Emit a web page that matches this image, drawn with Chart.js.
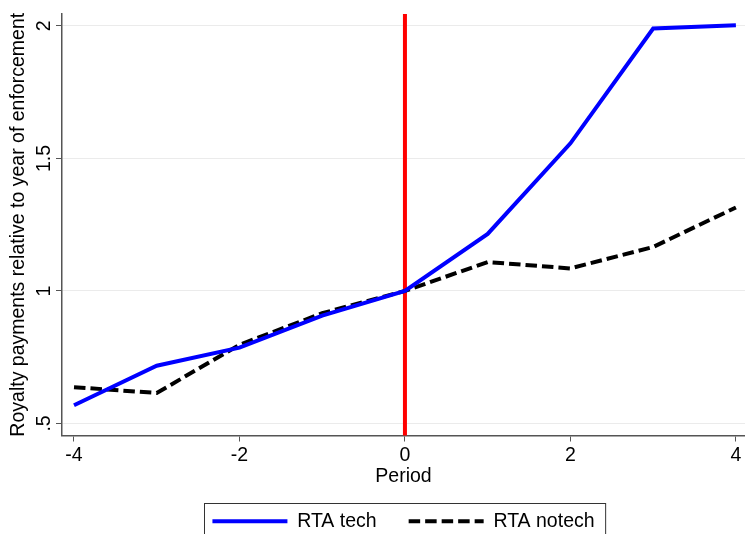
<!DOCTYPE html>
<html lang="en">
<head>
    <meta charset="UTF-8">
    <title>Royalty payments relative to year of enforcement</title>
    <style>
        html, body {
            margin: 0;
            padding: 0;
            background: #ffffff;
            overflow: hidden;
        }
        #chart {
            display: block;
        }
    </style>
</head>
<body>
    <canvas id="chart" width="745" height="541"></canvas>

    <script src="https://cdn.jsdelivr.net/npm/chart.js"></script>
    <script>
        // data
        const periods = [-4, -3, -2, -1, 0, 1, 2, 3, 4];
        const techVals = [0.569, 0.718, 0.786, 0.907, 1.0, 1.215, 1.557, 1.99, 2.003];
        const notechVals = [0.637, 0.615, 0.797, 0.916, 1.0, 1.109, 1.085, 1.166, 1.315];

        const xTickVals = [-4, -2, 0, 2, 4];
        const yTickVals = [0.5, 1, 1.5, 2];
        const yTickLabels = ['.5', '1', '1.5', '2'];
        const enforcementPeriod = 0;

        const FONT = '"Liberation Sans", Arial, sans-serif';
        const axisColor = '#555555';

        // vertical red line at the enforcement period
        const enforceLine = {
            id: 'enforceLine',
            beforeDatasetsDraw(chart) {
                const ctx = chart.ctx;
                const x = chart.scales.x.getPixelForValue(enforcementPeriod);
                const a = chart.chartArea;
                ctx.save();
                ctx.strokeStyle = '#ff0000';
                ctx.lineWidth = 4;
                ctx.beginPath();
                ctx.moveTo(x, a.top);
                ctx.lineTo(x, a.bottom);
                ctx.stroke();
                ctx.restore();
            }
        };

        // frame round the legend, like Stata
        const legendFrame = {
            id: 'legendFrame',
            afterDraw(chart) {
                const lg = chart.legend;
                if (!lg || !lg.legendHitBoxes.length) return;
                const boxes = lg.legendHitBoxes;
                const left = Math.min(...boxes.map(b => b.left)) - 8;
                const right = Math.max(...boxes.map(b => b.left + b.width)) + 11;
                const top = boxes[0].top - 9;
                const ctx = chart.ctx;
                ctx.save();
                ctx.strokeStyle = '#333333';
                ctx.lineWidth = 1;
                ctx.strokeRect(Math.round(left) + 0.5, Math.round(top) + 0.5, right - left, 60);
                ctx.restore();
            }
        };

        const ctx = document.getElementById('chart').getContext('2d');
        new Chart(ctx, {
            type: 'line',
            data: {
                datasets: [{
                    label: 'RTA tech',
                    data: periods.map((p, i) => ({ x: p, y: techVals[i] })),
                    borderColor: '#0000ff',
                    backgroundColor: '#0000ff',
                    borderWidth: 4,
                    pointRadius: 0,
                    tension: 0,
                    pointStyle: 'line'
                }, {
                    label: 'RTA notech',
                    data: periods.map((p, i) => ({ x: p, y: notechVals[i] })),
                    borderColor: '#000000',
                    backgroundColor: '#000000',
                    borderWidth: 4,
                    borderDash: [11.5, 5],
                    pointRadius: 0,
                    tension: 0,
                    pointStyle: 'line'
                }]
            },
            options: {
                responsive: false,
                animation: false,
                layout: { padding: { top: 14, right: 0, left: 0, bottom: 0 } },
                plugins: {
                    tooltip: { enabled: false },
                    legend: {
                        position: 'bottom',
                        fullSize: false,
                        labels: {
                            usePointStyle: true,
                            pointStyleWidth: 75,
                            padding: 32,
                            color: '#000000',
                            font: { family: FONT, size: 19.5 },
                            // point style drops the dash, so take it from the dataset
                            generateLabels(chart) {
                                const items = Chart.defaults.plugins.legend.labels.generateLabels(chart);
                                items.forEach(it => {
                                    const ds = chart.data.datasets[it.datasetIndex];
                                    it.lineDash = ds.borderDash || [];
                                    it.lineWidth = ds.borderWidth;
                                    it.lineCap = 'butt';
                                });
                                return items;
                            }
                        }
                    }
                },
                scales: {
                    x: {
                        type: 'linear',
                        min: -4.145,
                        max: 4.11,
                        afterBuildTicks: s => { s.ticks = xTickVals.map(v => ({ value: v })); },
                        afterFit: s => { s.height = 44; },
                        grid: {
                            drawOnChartArea: false,
                            drawTicks: true,
                            tickLength: 6,
                            tickColor: axisColor
                        },
                        border: { color: axisColor, width: 1.5 },
                        ticks: {
                            color: '#000000',
                            padding: 2,
                            maxRotation: 0,
                            font: { family: FONT, size: 19.5 }
                        },
                        title: {
                            display: true,
                            text: 'Period',
                            color: '#000000',
                            font: { family: FONT, size: 19.5 },
                            padding: { top: 0, bottom: -9 }
                        }
                    },
                    y: {
                        type: 'linear',
                        min: 0.4546,
                        max: 2.045,
                        afterBuildTicks: s => { s.ticks = yTickVals.map(v => ({ value: v })); },
                        afterFit: s => { s.width = 62; },
                        grid: {
                            color: '#ebebeb',
                            lineWidth: 1,
                            drawTicks: true,
                            tickLength: 6,
                            tickColor: axisColor
                        },
                        border: { color: axisColor, width: 1.5 },
                        ticks: {
                            color: '#000000',
                            padding: -2,
                            minRotation: 90,
                            maxRotation: 90,
                            crossAlign: 'center',
                            font: { family: FONT, size: 19.5 },
                            callback: v => yTickLabels[yTickVals.indexOf(v)]
                        },
                        title: {
                            display: true,
                            text: 'Royalty payments relative to year of enforcement',
                            color: '#000000',
                            font: { family: FONT, size: 19.5 },
                            padding: { top: 7, bottom: 0 }
                        }
                    }
                }
            },
            plugins: [enforceLine, legendFrame]
        });
    </script>
</body>
</html>
